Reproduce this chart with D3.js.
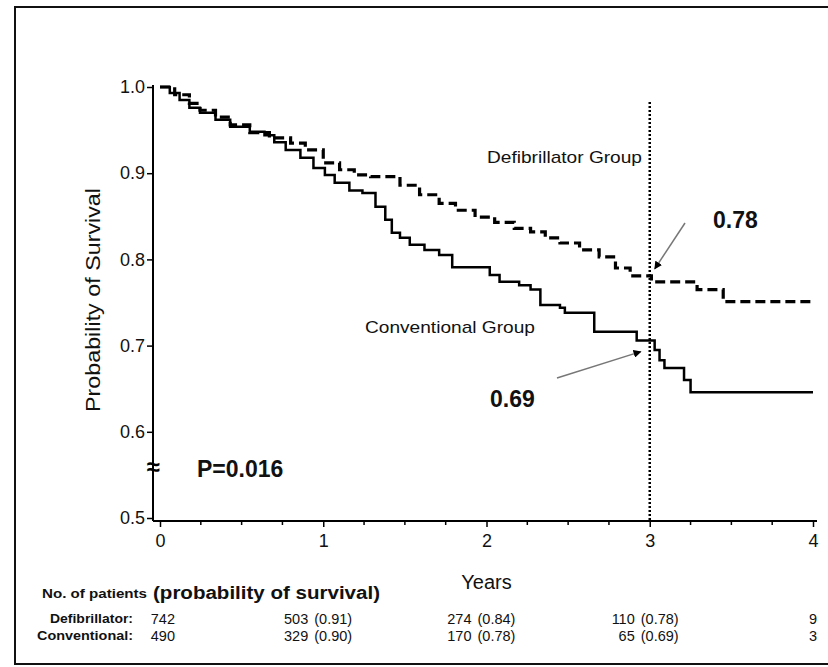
<!DOCTYPE html>
<html>
<head>
<meta charset="utf-8">
<script src="https://cdn.jsdelivr.net/npm/d3@7"></script>
<style>
  body { margin: 0; background: #fff; }
  svg { font-family: "Liberation Sans", Arial, sans-serif; }
</style>
</head>
<body>
<div id="chart"></div>
<script>
// Kaplan-Meier steps (years, probability of survival)
var defibTimes = [0, 0.09, 0.18, 0.245, 0.34, 0.43, 0.55, 0.67, 0.80, 0.89, 1.0, 1.10, 1.19, 1.29, 1.47, 1.59, 1.71, 1.81, 1.93, 2.05, 2.17, 2.27, 2.36, 2.45, 2.57, 2.69, 2.79, 2.88, 3.01, 3.29, 3.45, 4.0];
var defibSurv = [1.0, 0.991, 0.981, 0.973, 0.965, 0.956, 0.947, 0.941, 0.935, 0.927, 0.912, 0.904, 0.898, 0.896, 0.886, 0.875, 0.865, 0.857, 0.849, 0.843, 0.836, 0.832, 0.825, 0.819, 0.811, 0.803, 0.790, 0.781, 0.774, 0.765, 0.751, 0.751];
var convTimes = [0, 0.06, 0.12, 0.18, 0.245, 0.34, 0.43, 0.55, 0.64, 0.70, 0.77, 0.86, 0.94, 1.01, 1.07, 1.16, 1.24, 1.32, 1.38, 1.42, 1.47, 1.53, 1.62, 1.71, 1.79, 2.02, 2.08, 2.20, 2.27, 2.33, 2.45, 2.48, 2.66, 2.92, 3.03, 3.06, 3.09, 3.21, 3.25, 4.0];
var convSurv = [1.0, 0.993, 0.985, 0.976, 0.970, 0.962, 0.954, 0.948, 0.944, 0.936, 0.927, 0.918, 0.906, 0.898, 0.889, 0.880, 0.877, 0.861, 0.846, 0.831, 0.825, 0.817, 0.811, 0.805, 0.791, 0.782, 0.774, 0.770, 0.765, 0.747, 0.744, 0.738, 0.716, 0.706, 0.695, 0.683, 0.674, 0.660, 0.646, 0.646];

var yTicks = [0.5, 0.6, 0.7, 0.8, 0.9, 1.0];
var xTicks = [0, 1, 2, 3, 4];
var xMinor = [0.25, 0.5, 0.75, 1.25, 1.5, 1.75, 2.25, 2.5, 2.75, 3.25, 3.5, 3.75];

// numbers at risk table
var tableYears = [0, 1, 2, 3, 4];
var defibAtRisk = [742, 503, 274, 110, 9];
var defibProb = [null, "0.91", "0.84", "0.78", null];
var convAtRisk = [490, 329, 170, 65, 3];
var convProb = [null, "0.90", "0.78", "0.69", null];

var landmarkYear = 3;
var defibAt3 = "0.78", convAt3 = "0.69";

var W = 828, H = 667;
var svg = d3.select("#chart").append("svg")
  .attr("width", W).attr("height", H);

// outer frame
svg.append("rect")
  .attr("x", 15).attr("y", 7).attr("width", 830).attr("height", 657)
  .attr("fill", "#fff").attr("stroke", "#111").attr("stroke-width", 2);

var x = d3.scaleLinear().domain([0, 4]).range([160, 813]);
var y = d3.scaleLinear().domain([0.5, 1.0]).range([518, 87]);
var axisX = x(0) - 7;   // y-axis line position
var axisY = y(0.5) + 3; // x-axis line position

// axis lines
svg.append("line")
  .attr("x1", axisX).attr("x2", axisX)
  .attr("y1", y(1.0) - 2).attr("y2", axisY)
  .attr("stroke", "#000").attr("stroke-width", 2);
svg.append("line")
  .attr("x1", axisX).attr("x2", x(4) + 4)
  .attr("y1", axisY).attr("y2", axisY)
  .attr("stroke", "#000").attr("stroke-width", 2);

// y axis ticks + labels
var yAxis = svg.append("g")
  .attr("transform", "translate(" + axisX + ",0)")
  .call(d3.axisLeft(y).tickValues(yTicks).tickFormat(d3.format(".1f")).tickSize(6).tickPadding(2));
yAxis.select(".domain").remove();
yAxis.selectAll("line").attr("stroke-width", 1.5);
yAxis.selectAll("text").attr("font-size", 18).attr("fill", "#111")
  .attr("font-family", "Liberation Sans, Arial, sans-serif");

// x axis ticks + labels
var xAxis = svg.append("g")
  .attr("transform", "translate(0," + axisY + ")")
  .call(d3.axisBottom(x).tickValues(xTicks).tickFormat(d3.format("d")).tickSize(6).tickPadding(7));
xAxis.select(".domain").remove();
xAxis.selectAll("line").attr("stroke-width", 1.5);
xAxis.selectAll("text").attr("font-size", 18).attr("fill", "#111")
  .attr("font-family", "Liberation Sans, Arial, sans-serif");

svg.append("g").selectAll("line")
  .data(xMinor).enter().append("line")
  .attr("x1", d => x(d)).attr("x2", d => x(d))
  .attr("y1", axisY).attr("y2", axisY + 4)
  .attr("stroke", "#000").attr("stroke-width", 1.5);

// axis break mark
svg.append("text")
  .attr("x", axisX).attr("y", y(0.557))
  .attr("text-anchor", "middle").attr("dominant-baseline", "middle")
  .attr("font-size", 24).attr("font-weight", "bold")
  .text("\u2248");

// axis titles
svg.append("text")
  .attr("transform", "translate(100,300) rotate(-90)")
  .attr("text-anchor", "middle")
  .attr("font-size", 21).attr("fill", "#111")
  .attr("textLength", 224).attr("lengthAdjust", "spacingAndGlyphs")
  .text("Probability of Survival");
svg.append("text")
  .attr("x", x(2)).attr("y", 589)
  .attr("text-anchor", "middle")
  .attr("font-size", 20).attr("fill", "#111")
  .text("Years");

// landmark line at 3 years
svg.append("line")
  .attr("x1", x(landmarkYear)).attr("x2", x(landmarkYear))
  .attr("y1", 102).attr("y2", axisY)
  .attr("stroke", "#000").attr("stroke-width", 2.5)
  .attr("stroke-dasharray", "2,2");

// survival curves
var line = d3.line()
  .x(d => x(d[0])).y(d => y(d[1]))
  .curve(d3.curveStepAfter);
var defib = defibTimes.map((t, i) => [t, defibSurv[i]]);
var conv = convTimes.map((t, i) => [t, convSurv[i]]);

svg.append("path").datum(conv)
  .attr("d", line).attr("fill", "none")
  .attr("stroke", "#000").attr("stroke-width", 2.5);
svg.append("path").datum(defib)
  .attr("d", line).attr("fill", "none")
  .attr("stroke", "#000").attr("stroke-width", 3.2)
  .attr("stroke-dasharray", "10,5");

// group labels
svg.append("text").attr("x", 487).attr("y", 163)
  .attr("font-size", 17).attr("fill", "#111")
  .attr("textLength", 155).attr("lengthAdjust", "spacingAndGlyphs")
  .text("Defibrillator Group");
svg.append("text").attr("x", 365).attr("y", 333)
  .attr("font-size", 17).attr("fill", "#111")
  .attr("textLength", 170).attr("lengthAdjust", "spacingAndGlyphs")
  .text("Conventional Group");

// arrows
var defs = svg.append("defs");
defs.append("marker")
  .attr("id", "head").attr("viewBox", "0 0 10 10")
  .attr("refX", 9).attr("refY", 5)
  .attr("markerWidth", 8).attr("markerHeight", 8)
  .attr("markerUnits", "userSpaceOnUse")
  .attr("orient", "auto")
  .append("path").attr("d", "M0,0 L10,5 L0,10 Z").attr("fill", "#000");

svg.append("line")
  .attr("x1", 685).attr("y1", 223)
  .attr("x2", x(landmarkYear) + 5).attr("y2", y(0.789))
  .attr("stroke", "#777").attr("stroke-width", 1.5)
  .attr("marker-end", "url(#head)");
svg.append("line")
  .attr("x1", 557).attr("y1", 378)
  .attr("x2", x(landmarkYear) - 9).attr("y2", y(0.693))
  .attr("stroke", "#777").attr("stroke-width", 1.5)
  .attr("marker-end", "url(#head)");

svg.append("text").attr("x", 713).attr("y", 228)
  .attr("font-size", 23).attr("font-weight", "bold").attr("fill", "#111")
  .text(defibAt3);
svg.append("text").attr("x", 490).attr("y", 407)
  .attr("font-size", 23).attr("font-weight", "bold").attr("fill", "#111")
  .text(convAt3);
svg.append("text").attr("x", 197).attr("y", 477)
  .attr("font-size", 23).attr("font-weight", "bold").attr("fill", "#111")
  .text("P=0.016");

// at-risk table
svg.append("text").attr("x", 42).attr("y", 598)
  .attr("font-size", 13).attr("font-weight", "bold").attr("fill", "#111")
  .attr("textLength", 105).attr("lengthAdjust", "spacingAndGlyphs")
  .text("No. of patients");
svg.append("text").attr("x", 153).attr("y", 599)
  .attr("font-size", 18).attr("font-weight", "bold").attr("fill", "#111")
  .attr("textLength", 227).attr("lengthAdjust", "spacingAndGlyphs")
  .text("(probability of survival)");

var rows = [
  {label: "Defibrillator:", lx: 50, lw: 83, ty: 624, n: defibAtRisk, p: defibProb},
  {label: "Conventional:", lx: 37, lw: 96, ty: 641, n: convAtRisk, p: convProb}
];
rows.forEach(function(r) {
  svg.append("text").attr("x", r.lx).attr("y", r.ty - 1)
    .attr("font-size", 12).attr("font-weight", "bold").attr("fill", "#111")
    .attr("textLength", r.lw).attr("lengthAdjust", "spacingAndGlyphs")
    .text(r.label);
  tableYears.forEach(function(yr, i) {
    var cx = x(yr);
    if (i === 0) {
      svg.append("text").attr("x", cx + 15).attr("y", r.ty)
        .attr("text-anchor", "end").attr("font-size", 14.5).attr("fill", "#111")
        .text(r.n[i]);
    } else if (r.p[i] === null) {
      svg.append("text").attr("x", cx).attr("y", r.ty)
        .attr("text-anchor", "middle").attr("font-size", 14.5).attr("fill", "#111")
        .text(r.n[i]);
    } else {
      svg.append("text").attr("x", cx - 15).attr("y", r.ty)
        .attr("text-anchor", "end").attr("font-size", 14.5).attr("fill", "#111")
        .text(r.n[i]);
      svg.append("text").attr("x", cx - 9).attr("y", r.ty)
        .attr("font-size", 14.5).attr("fill", "#111")
        .text("(" + r.p[i] + ")");
    }
  });
});
</script>
</body>
</html>
